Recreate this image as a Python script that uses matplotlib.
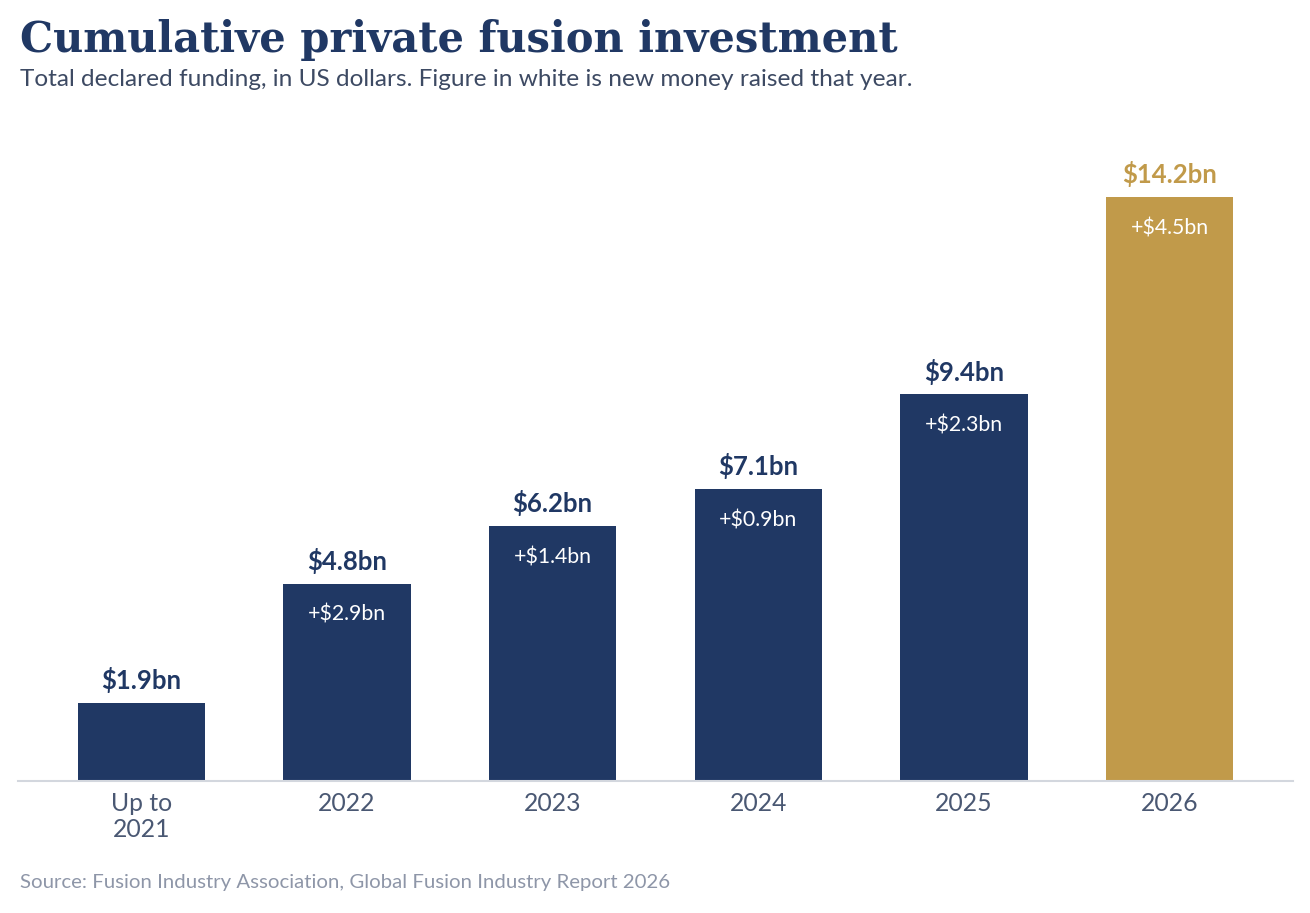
import matplotlib.pyplot as plt

categories = ["Up to\n2021", "2022", "2023", "2024", "2025", "2026"]
totals = [1.9, 4.8, 6.2, 7.1, 9.4, 14.2]
new_money = [None, 2.9, 1.4, 0.9, 2.3, 4.5]

navy = "#203864"
gold = "#c19a4a"
colors = [navy] * 5 + [gold]

fig = plt.figure(figsize=(13.1, 9.13), dpi=100)
ax = fig.add_axes([18 / 1310, 132 / 913, 1275 / 1310, 658 / 913])

x = range(len(categories))
ax.bar(x, totals, width=0.62, color=colors, zorder=2)

for i, (t, n) in enumerate(zip(totals, new_money)):
    ax.annotate(f"${t}bn", (i, t), xytext=(0, 7), textcoords="offset points",
                ha="center", va="bottom", fontsize=18.5, fontweight="bold",
                family="Lato", color=colors[i])
    if n is not None:
        ax.annotate(f"+${n}bn", (i, t), xytext=(0, -22.5), textcoords="offset points",
                    ha="center", va="center", fontsize=15.3, family="Lato",
                    color="white")

ax.set_xlim(-0.6, 5.6)
ax.set_ylim(0, 16)
ax.set_xticks(list(x))
ax.set_xticklabels(categories, family="Lato", fontsize=17.8, color="#4a5873",
                   linespacing=1.15)
ax.tick_params(axis="x", length=0, pad=8)
ax.set_yticks([])
for s in ["top", "right", "left"]:
    ax.spines[s].set_visible(False)
ax.spines["bottom"].set_color("#d3d7de")
ax.spines["bottom"].set_linewidth(1.5)

fig.text(20 / 1310, 1 - 40 / 913, "Cumulative private fusion investment",
         family="DejaVu Serif", fontweight="bold", fontsize=30, color=navy,
         va="center", ha="left")
fig.text(20 / 1310, 1 - 79 / 913,
         "Total declared funding, in US dollars. Figure in white is new money raised that year.",
         family="Lato", fontsize=17.6, color="#3d4a63", va="center", ha="left")
fig.text(20 / 1310, 1 - 882 / 913,
         "Source: Fusion Industry Association, Global Fusion Industry Report 2026",
         family="Lato", fontsize=14.7, color="#8e96a8", va="center", ha="left")

fig.savefig("out.png", dpi=100)
